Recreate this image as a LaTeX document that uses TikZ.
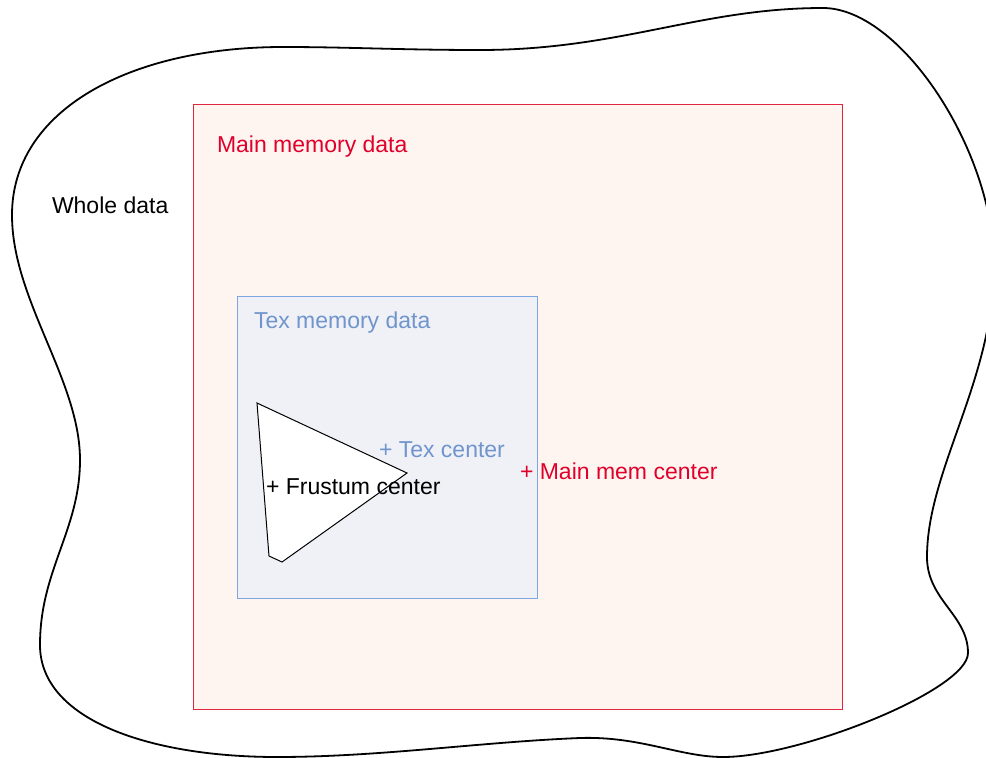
\documentclass[tikz,border=0pt]{standalone}
\usepackage{fontspec}
\setmainfont{Liberation Sans}
\definecolor{mainred}{HTML}{E0002B}
\definecolor{mainedge}{HTML}{E3243F}
\definecolor{mainfill}{HTML}{FFF5F0}
\definecolor{texblue}{HTML}{7094CC}
\definecolor{texedge}{HTML}{7EA6E0}
\definecolor{texfill}{HTML}{EFF1F7}
\begin{document}
\begin{tikzpicture}[x=1pt,y=-1pt,
  every node/.style={font=\fontsize{23}{27.6}\selectfont},
  region/.style={draw, line width=1.3pt, anchor=north west, inner sep=0pt},
  caption/.style={anchor=base west, inner sep=0pt, outer sep=0pt},
  blob/.style={draw=black, line width=1.8pt},
  frustum/.style={draw=black, fill=white, line width=1pt, line join=miter}]
\useasboundingbox (0,0) rectangle (986,758);

% outer boundary of the whole data set
\begin{scope}
\clip (0,0) rectangle (986,758);
\draw[blob]
  (283,47) .. controls (130,47) and (12,110) .. (12,215)
  .. controls (12,300) and (80,380) .. (80,460)
  .. controls (80,530) and (40,570) .. (40,645)
  .. controls (40,720) and (150,757) .. (277,757)
  .. controls (380,757) and (480,742) .. (580,738)
  .. controls (640,736) and (680,757) .. (723,757)
  .. controls (800,757) and (968,690) .. (968,653)
  .. controls (968,615) and (927,600) .. (927,557)
  .. controls (927,470) and (994,380) .. (994,265)
  .. controls (994,150) and (900,8) .. (823,8)
  .. controls (700,8) and (620,50) .. (480,50)
  .. controls (400,50) and (350,47) .. cycle;
\end{scope}

% main memory region
\node[region, draw=mainedge, fill=mainfill, minimum width=649pt, minimum height=605pt]
  (mainmem) at (193,104) {};
% texture memory region
\node[region, draw=texedge, fill=texfill, minimum width=300pt, minimum height=302pt]
  (texmem) at (237,296) {};

% view frustum
\coordinate (f1) at (257,403);
\coordinate (f2) at (407,473);
\coordinate (f3) at (282,562);
\coordinate (f4) at (269,556);
\draw[frustum] (f1) -- (f2) -- (f3) -- (f4) -- cycle;

% labels
\node[caption, text=black] (whole) at (52,213) {Whole data};
\node[caption, text=mainred] (mainlbl) at (217,152) {Main memory data};
\node[caption, text=texblue] (texlbl) at (254,328) {Tex memory data};
\node[caption, text=texblue] (texc) at (379,457) {+ Tex center};
\node[caption, text=black] (frc) at (266,494) {+ Frustum center};
\node[caption, text=mainred] (mainc) at (520,479) {+ Main mem center};
\end{tikzpicture}
\end{document}
